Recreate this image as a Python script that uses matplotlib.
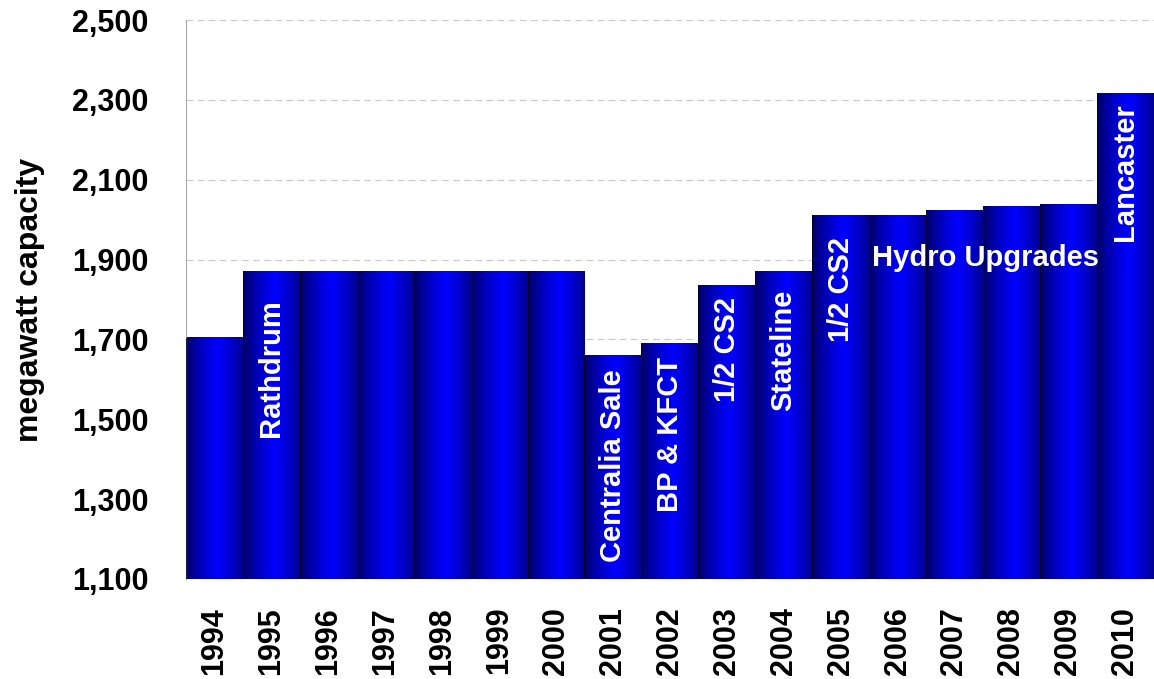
import numpy as np
import matplotlib.pyplot as plt
from matplotlib.ticker import FuncFormatter

years = [str(y) for y in range(1994, 2011)]
capacity = [1704, 1870, 1870, 1870, 1870, 1870, 1870, 1659, 1689, 1834,
            1870, 2010, 2010, 2024, 2034, 2039, 2315]
yticks = list(range(1100, 2501, 200))

# event labels: bar index, y value, text, rotation
events_idx = [1, 7, 8, 9, 10, 11, 13.55, 16]
events_y = [1628, 1383, 1461, 1674, 1674, 1824, 1904, 2119]
events_text = ["Rathdrum", "Centralia Sale", "BP & KFCT", "1/2 CS2",
               "Stateline", "1/2 CS2", "Hydro Upgrades", "Lancaster"]
events_rot = [90, 90, 90, 90, 90, 90, 0, 90]

plt.rcParams["font.family"] = ["Liberation Sans", "DejaVu Sans"]
plt.rcParams["font.weight"] = "bold"

fig = plt.figure(figsize=(11.54, 6.79), dpi=100)
ax = fig.add_axes([0.1612, 0.1473, 0.8385, 0.8232])

x = np.arange(len(years))
bars = ax.bar(x, capacity, width=1.0, color="none", edgecolor="none", zorder=2)

# horizontal gradient: dark navy at edges, bright blue slightly right of centre
t = np.linspace(0, 1, 256)
prof = np.clip(1 - np.abs(t - 0.56) / 0.56, 0, 1) ** 0.6
blue = 0.28 + 0.72 * prof
grad = np.zeros((1, len(t), 3))
grad[0, :, 2] = blue

for b in bars:
    x0, y0 = b.get_x(), 1100
    ax.imshow(grad, extent=[x0, x0 + b.get_width(), y0, b.get_height()],
              aspect="auto", zorder=2, interpolation="bilinear")
    ax.plot([x0, x0], [y0, b.get_height()], color="#000030", lw=0.6, zorder=3)

for xi, yi, txt, rot in zip(events_idx, events_y, events_text, events_rot):
    ax.text(xi, yi, txt, rotation=rot, color="white", fontsize=21,
            fontweight="bold", ha="center", va="center", zorder=4)

ax.set_xlim(-0.5, len(years) - 0.5)
ax.set_ylim(1100, 2500)
ax.set_yticks(yticks)
ax.yaxis.set_major_formatter(FuncFormatter(lambda v, p: f"{int(v):,}"))
ax.set_xticks(x)
ax.set_xticklabels(years, rotation=90)
ax.tick_params(axis="y", length=0, pad=27, labelsize=22)
ax.tick_params(axis="x", length=0, pad=20, labelsize=22)
ax.grid(axis="y", color="#c8c8c8", linestyle=(0, (6, 4)), lw=0.8, zorder=0)
ax.set_axisbelow(True)

for s in ["top", "right", "bottom"]:
    ax.spines[s].set_visible(False)
ax.spines["left"].set_color("#a8a8a8")

ax.set_ylabel("megawatt capacity", fontsize=23, fontweight="bold")
ax.yaxis.set_label_coords(-0.146, 0.5)

fig.savefig("out.png", dpi=100)
